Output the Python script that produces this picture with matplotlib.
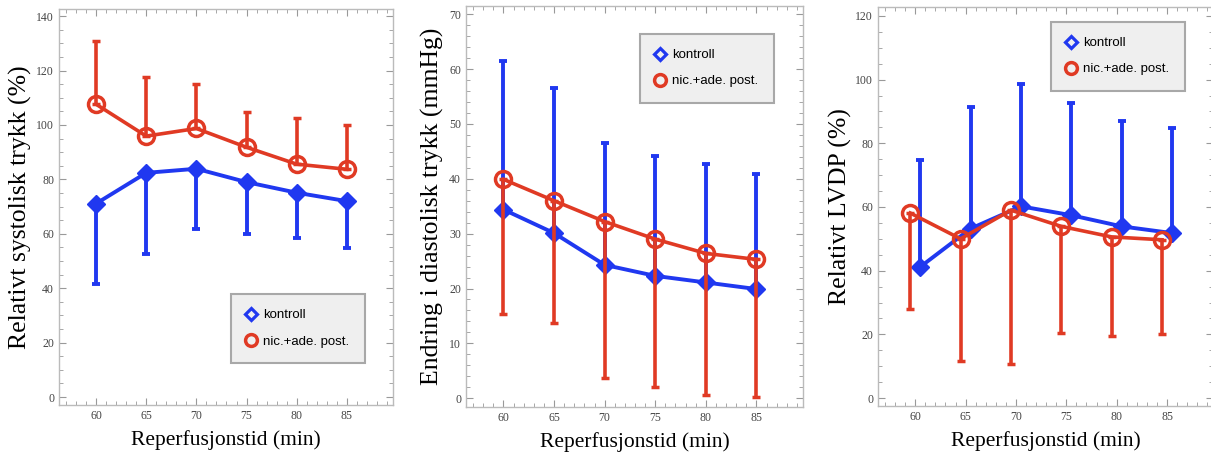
import matplotlib.pyplot as plt
from matplotlib.lines import Line2D
from matplotlib.ticker import MultipleLocator

# time points (min)
tid = [60, 65, 70, 75, 80, 85]

# panel 1: relativt systolisk trykk (%)
sys_kontroll = [71.1, 82.4, 83.9, 79.0, 75.1, 72.0]
sys_kontroll_lav = [41.7, 52.5, 61.9, 60.1, 58.4, 54.8]
sys_nic = [107.6, 95.9, 98.7, 91.8, 85.6, 83.7]
sys_nic_hoy = [130.8, 117.7, 115.0, 104.7, 102.7, 99.9]

# panel 2: endring i diastolisk trykk (mmHg)
dia_kontroll = [34.4, 30.1, 24.3, 22.3, 21.1, 19.9]
dia_kontroll_hoy = [61.5, 56.6, 46.6, 44.2, 42.7, 40.8]
dia_nic = [39.9, 36.0, 32.2, 29.0, 26.4, 25.3]
dia_nic_lav = [15.4, 13.8, 3.6, 2.0, 0.5, 0.2]

# panel 3: relativt LVDP (%), groups shifted half a minute apart
lvdp_tid_kontroll = [60.5, 65.5, 70.5, 75.5, 80.5, 85.5]
lvdp_tid_nic = [59.5, 64.5, 69.5, 74.5, 79.5, 84.5]
lvdp_kontroll = [41.2, 53.2, 60.2, 57.4, 53.9, 51.8]
lvdp_kontroll_hoy = [74.7, 91.4, 98.5, 92.7, 87.0, 84.9]
lvdp_nic = [58.1, 50.0, 59.0, 53.9, 50.6, 49.7]
lvdp_nic_lav = [28.1, 11.5, 10.8, 20.4, 19.4, 20.2]

blue = "#2038f0"
red = "#e03a24"
serif = ["Liberation Serif", "DejaVu Serif"]
sans = ["Liberation Sans", "DejaVu Sans"]


def draw(ax, xk, yk, errk, xn, yn, errn):
    # one-sided error bars: errk/errn are (lower, upper) lists
    ax.errorbar(xk, yk, yerr=errk, color=blue, lw=2.8, marker="D", ms=9,
                mfc=blue, mec=blue, capsize=3, capthick=2.8, zorder=3)
    ax.errorbar(xn, yn, yerr=errn, color=red, lw=2.6, marker="o", ms=11.5,
                mfc="none", mec=red, mew=2.5, capsize=3, capthick=2.6, zorder=4)


def style(ax, ylim, ymajor, yminor, ylabel, ylab_x):
    ax.set_xlim(56.3, 89.6)
    ax.set_ylim(*ylim)
    ax.xaxis.set_major_locator(MultipleLocator(5))
    ax.xaxis.set_minor_locator(MultipleLocator(1))
    ax.yaxis.set_major_locator(MultipleLocator(ymajor))
    ax.yaxis.set_minor_locator(MultipleLocator(yminor))
    ax.set_xticks([60, 65, 70, 75, 80, 85])
    ax.tick_params(which="both", direction="in", top=True, right=True,
                   color="#999999", labelcolor="#444444", labelsize=8.5)
    ax.tick_params(which="major", length=5, width=0.8)
    ax.tick_params(which="minor", length=3, width=0.6)
    for lab in ax.get_xticklabels() + ax.get_yticklabels():
        lab.set_family(serif)
    for s in ax.spines.values():
        s.set_color("#bbbbbb")
        s.set_linewidth(1.0)
    ax.set_xlabel("Reperfusjonstid (min)", family=serif, fontsize=15.5, labelpad=6)
    ax.set_ylabel(ylabel, family=serif, fontsize=18.5)
    ax.yaxis.set_label_coords(ylab_x, 0.5)


def legend(ax, x0, y0):
    handles = [
        Line2D([], [], ls="none", marker="D", ms=6.5, mfc="none", mec=blue, mew=2.3),
        Line2D([], [], ls="none", marker="o", ms=8.5, mfc="none", mec=red, mew=2.5),
    ]
    leg = ax.legend(handles, ["kontroll", "nic.+ade. post."], loc="upper left",
                    bbox_to_anchor=(x0, y0), bbox_transform=fig.transFigure,
                    prop={"family": sans, "size": 9.5}, frameon=True, fancybox=False,
                    facecolor="#efefef", edgecolor="#a8a8a8", framealpha=1,
                    borderpad=1.15, labelspacing=1.05, handlelength=0.8,
                    handletextpad=0.5, borderaxespad=0)
    leg.get_frame().set_linewidth(1.5)


fig = plt.figure(figsize=(12.11, 4.57), dpi=100)
ax1 = fig.add_axes([0.0487, 0.1138, 0.2758, 0.8665])
ax2 = fig.add_axes([0.3848, 0.1094, 0.2783, 0.8775])
ax3 = fig.add_axes([0.7250, 0.1116, 0.2770, 0.8731])

draw(ax1, tid, sys_kontroll,
     [[m - l for m, l in zip(sys_kontroll, sys_kontroll_lav)], [0] * 6],
     tid, sys_nic,
     [[0] * 6, [h - m for m, h in zip(sys_nic, sys_nic_hoy)]])
style(ax1, (-2.9, 142.6), 20, 5, "Relativt systolisk trykk (%)", -0.08)

draw(ax2, tid, dia_kontroll,
     [[0] * 6, [h - m for m, h in zip(dia_kontroll, dia_kontroll_hoy)]],
     tid, dia_nic,
     [[m - l for m, l in zip(dia_nic, dia_nic_lav)], [0] * 6])
style(ax2, (-1.6, 71.5), 10, 2, "Endring i diastolisk trykk (mmHg)", -0.066)

draw(ax3, lvdp_tid_kontroll, lvdp_kontroll,
     [[0] * 6, [h - m for m, h in zip(lvdp_kontroll, lvdp_kontroll_hoy)]],
     lvdp_tid_nic, lvdp_nic,
     [[m - l for m, l in zip(lvdp_nic, lvdp_nic_lav)], [0] * 6])
style(ax3, (-2.5, 122.8), 20, 5, "Relativt LVDP (%)", -0.076)

legend(ax1, 231 / 1211, 1 - 294 / 457)
legend(ax2, 640 / 1211, 1 - 34 / 457)
legend(ax3, 1051 / 1211, 1 - 22 / 457)

fig.savefig("out.png", dpi=100)
